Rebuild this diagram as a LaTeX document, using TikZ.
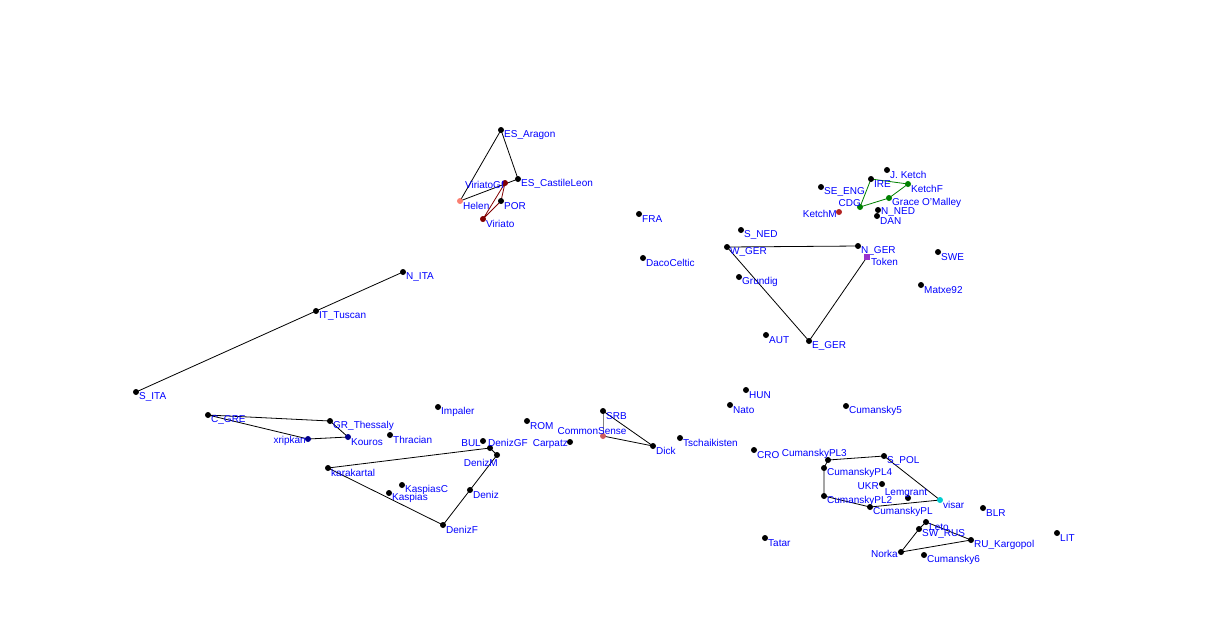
\documentclass[tikz,border=0pt]{standalone}
\usepackage{fontspec}
\setmainfont{Liberation Sans}
\usetikzlibrary{backgrounds}
\definecolor{lblue}{RGB}{0,0,255}
\definecolor{gdark}{RGB}{0,128,0}
\definecolor{rdark}{RGB}{128,0,0}
\definecolor{salm}{RGB}{250,128,114}
\definecolor{fireb}{RGB}{178,34,34}
\definecolor{indr}{RGB}{205,92,92}
\definecolor{orchid}{RGB}{153,50,204}
\definecolor{navyb}{RGB}{0,0,139}
\definecolor{turq}{RGB}{0,206,209}
\tikzset{
  dot/.style={circle,fill=black,inner sep=0pt,minimum size=6pt},
  sqdot/.style={rectangle,fill=orchid,inner sep=0pt,minimum size=6pt},
  lab/.style={text=lblue,inner sep=0pt,font=\fontsize{10}{12}\selectfont},
  edge/.style={draw=black,line width=0.8pt},
  gedge/.style={draw=gdark,line width=0.8pt},
  redge/.style={draw=rdark,line width=0.8pt},
  greyedge/.style={draw=gray,line width=0.8pt}
}
% right-labelled point: name, x, y, dot style, text
\newcommand\rpt[5]{\node[dot,#4] (#1) at (#2,#3) {};
  \node[lab,anchor=west] (#1-l) at ({#2+3},{#3+5}) {#5};}
% point with label anchored explicitly: name, x, y, dot style, anchor, lx, ly, text
\newcommand\xpt[8]{\node[dot,#4] (#1) at (#2,#3) {};
  \node[lab,anchor=#5] (#1-l) at (#6,#7) {#8};}
\begin{document}
\begin{tikzpicture}[x=1pt,y=-1pt]
\useasboundingbox (0,0) rectangle (1206,641);
% Iberia
\rpt{esar}{501}{130}{}{ES\_Aragon}
\rpt{escl}{518}{179}{}{ES\_CastileLeon}
\rpt{helen}{460}{201}{fill=salm}{Helen}
\rpt{por}{501}{201}{}{POR}
\rpt{viriato}{483}{219}{fill=rdark}{Viriato}
\xpt{virgf}{505}{183}{fill=rdark}{east}{504}{185}{ViriatoGf}
\rpt{fra}{639}{214}{}{FRA}
\rpt{daco}{643}{258}{}{DacoCeltic}
% Italy
\rpt{nita}{403}{272}{}{N\_ITA}
\rpt{ittus}{316}{311}{}{IT\_Tuscan}
\rpt{sita}{136}{392}{}{S\_ITA}
% north-west
\rpt{jketch}{887}{170}{}{J. Ketch}
\rpt{ire}{871}{179}{}{IRE}
\rpt{ketchf}{908}{184}{fill=gdark}{KetchF}
\rpt{seeng}{821}{187}{}{SE\_ENG}
\rpt{grace}{889}{198}{fill=gdark}{Grace O'Malley}
\xpt{cdg}{860}{207}{fill=gdark}{east}{861}{203}{CDG}
\xpt{ketchm}{839}{212}{fill=fireb}{east}{837}{214}{KetchM}
\xpt{nned}{878}{210}{}{west}{881}{212}{N\_NED}
\rpt{dan}{877}{216}{}{DAN}
% Germany
\rpt{sned}{741}{230}{}{S\_NED}
\rpt{wger}{727}{247}{}{W\_GER}
\rpt{nger}{858}{246}{}{N\_GER}
\node[sqdot] (token) at (867,257) {};
\node[lab,anchor=west] (token-l) at (871,262) {Token};
\rpt{swe}{938}{252}{}{SWE}
\rpt{grundig}{739}{277}{}{Grundig}
\rpt{matxe}{921}{285}{}{Matxe92}
\rpt{aut}{766}{335}{}{AUT}
\rpt{eger}{809}{341}{}{E\_GER}
% Greece / Balkans
\rpt{cgre}{208}{415}{}{C\_GRE}
\rpt{grth}{330}{421}{}{GR\_Thessaly}
\rpt{impaler}{438}{407}{}{Impaler}
\rpt{kouros}{348}{437}{fill=navyb}{Kouros}
\xpt{xripkan}{308}{439}{fill=navyb}{east}{306}{441}{xripkan}
\rpt{thracian}{390}{435}{}{Thracian}
\xpt{bul}{483}{441}{}{east}{481}{443}{BUL}
\xpt{denizgf}{490}{448}{}{west}{488}{443}{DenizGF}
\xpt{denizm}{497}{455}{}{east}{498}{463}{DenizM}
\rpt{karak}{328}{468}{}{karakartal}
\rpt{kaspc}{402}{485}{}{KaspiasC}
\rpt{kasp}{389}{493}{}{Kaspias}
\rpt{deniz}{470}{490}{}{Deniz}
\rpt{denizf}{443}{525}{}{DenizF}
\rpt{rom}{527}{421}{}{ROM}
\xpt{carpatz}{570}{442}{}{east}{568}{444}{Carpatz}
\rpt{srb}{603}{411}{}{SRB}
\xpt{commons}{603}{436}{fill=indr}{center}{592}{431}{CommonSense}
\rpt{dick}{653}{446}{}{Dick}
\rpt{tschai}{680}{438}{}{Tschaikisten}
% east
\rpt{hun}{746}{390}{}{HUN}
\rpt{nato}{730}{405}{}{Nato}
\rpt{cum5}{846}{406}{}{Cumansky5}
\rpt{cro}{754}{450}{}{CRO}
\xpt{cpl3}{828}{460}{}{east}{847}{454}{CumanskyPL3}
\rpt{spol}{884}{456}{}{S\_POL}
\rpt{cpl4}{824}{468}{}{CumanskyPL4}
\xpt{ukr}{882}{484}{}{east}{879}{486}{UKR}
\rpt{cpl2}{824}{496}{}{CumanskyPL2}
\xpt{lemgrant}{908}{498}{}{center}{906}{493}{Lemgrant}
\rpt{visar}{940}{500}{fill=turq}{visar}
\rpt{cpl}{870}{507}{}{CumanskyPL}
\rpt{blr}{983}{508}{}{BLR}
\rpt{leto}{926}{522}{}{Leto}
\rpt{swrus}{919}{529}{}{SW\_RUS}
\rpt{rukar}{971}{540}{}{RU\_Kargopol}
\xpt{norka}{901}{552}{}{east}{898}{554}{Norka}
\rpt{cum6}{924}{555}{}{Cumansky6}
\rpt{tatar}{765}{538}{}{Tatar}
\rpt{lit}{1057}{533}{}{LIT}
\begin{scope}[on background layer]
\draw[edge] (esar.center) -- (escl.center) -- (helen.center) -- cycle;
\draw[redge] (virgf.center) -- (viriato.center) -- (por.center) -- cycle;
\draw[edge] (sita.center) -- (ittus.center) -- (nita.center);
\draw[gedge] (cdg.center) -- (ire.center) -- (ketchf.center) -- (grace.center) -- cycle;
\draw[edge] (nger.center) -- (wger.center) -- (eger.center) -- (token.center);
\draw[edge] (cgre.center) -- (grth.center) -- (kouros.center) -- (xripkan.center) -- cycle;
\draw[edge] (karak.center) -- (denizgf.center) -- (denizm.center) -- (deniz.center) -- (denizf.center) -- cycle;
\draw[greyedge] (srb.center) -- (commons.center);
\draw[edge] (srb.center) -- (dick.center) -- (commons.center);
\draw[edge] (cpl3.center) -- (spol.center) -- (visar.center) -- (cpl.center) -- (cpl2.center) -- (cpl4.center) -- cycle;
\draw[edge] (norka.center) -- (swrus.center) -- (leto.center) -- (rukar.center) -- cycle;
\end{scope}
\end{tikzpicture}
\end{document}
